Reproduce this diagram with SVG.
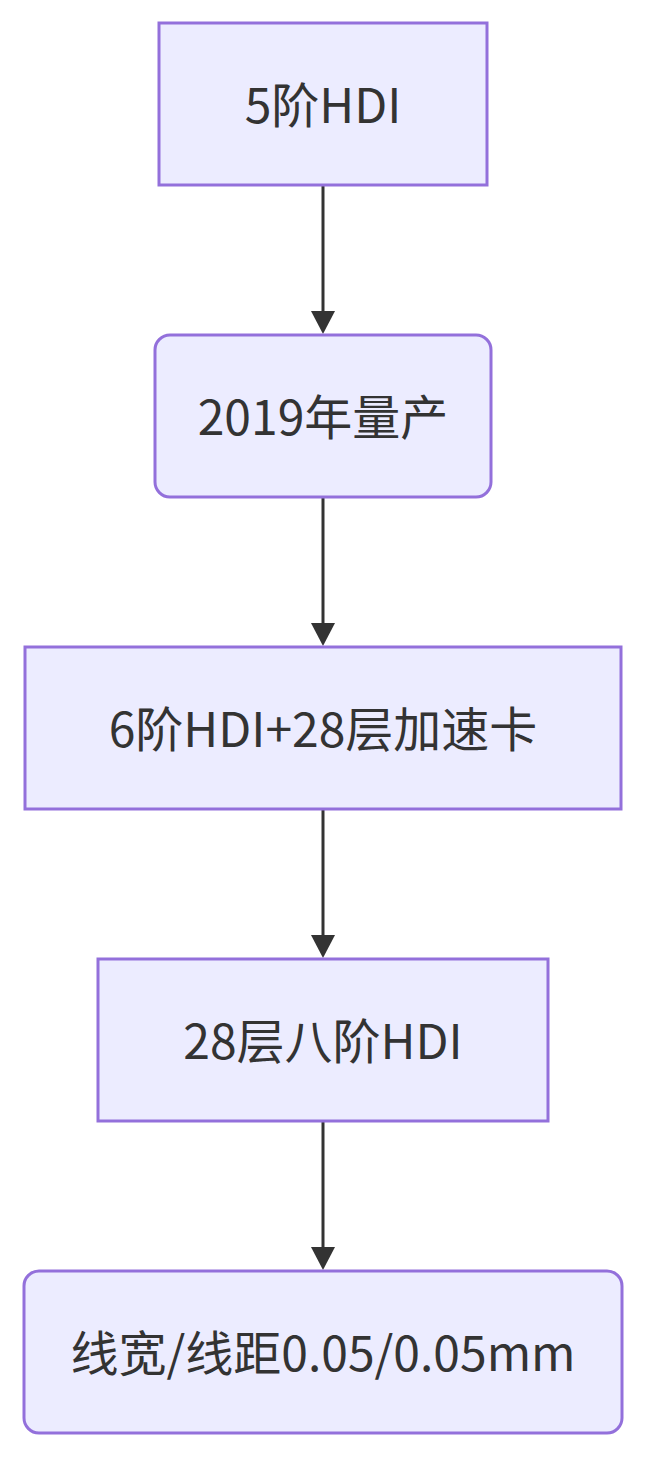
<svg xmlns="http://www.w3.org/2000/svg" width="646" height="1457" viewBox="0 0 646 1457">
<defs>
<style>
.node rect{fill:#ECECFF;stroke:#9370DB;stroke-width:3}
.node text{font-family:"Noto Sans CJK SC","Noto Sans",sans-serif;font-size:48px;fill:#333333;text-anchor:middle;dominant-baseline:central}
.edge{stroke:#333333;stroke-width:3;fill:none}
.head{fill:#333333}
</style>
</defs>
<rect width="646" height="1457" fill="#ffffff"/>
<g id="connectors">
<line class="edge" x1="323" y1="185" x2="323" y2="315"/>
<polygon class="head" points="311,311 335,311 323,334"/>
<line class="edge" x1="323" y1="497" x2="323" y2="627"/>
<polygon class="head" points="311,623 335,623 323,646"/>
<line class="edge" x1="323" y1="809" x2="323" y2="939"/>
<polygon class="head" points="311,935 335,935 323,958"/>
<line class="edge" x1="323" y1="1121" x2="323" y2="1251"/>
<polygon class="head" points="311,1247 335,1247 323,1270"/>
</g>
<g id="node1" class="node">
<rect x="159" y="23" width="328" height="162"/>
<text x="323" y="102">5阶HDI</text>
</g>
<g id="node2" class="node">
<rect x="155" y="335" width="336" height="162" rx="15" ry="15"/>
<text x="323" y="414">2019年量产</text>
</g>
<g id="node3" class="node">
<rect x="25" y="647" width="596" height="162"/>
<text x="323" y="726">6阶HDI+28层加速卡</text>
</g>
<g id="node4" class="node">
<rect x="98" y="959" width="450" height="162"/>
<text x="323" y="1038">28层八阶HDI</text>
</g>
<g id="node5" class="node">
<rect x="24" y="1271" width="598" height="162" rx="15" ry="15"/>
<text x="323" y="1350">线宽/线距0.05/0.05mm</text>
</g>
</svg>
